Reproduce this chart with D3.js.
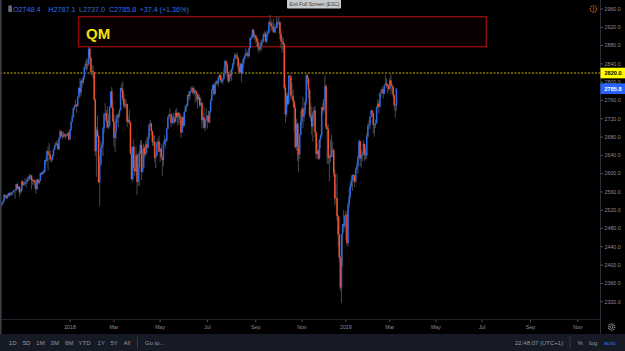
<!DOCTYPE html>
<html><head><meta charset="utf-8">
<script src="https://cdn.jsdelivr.net/npm/d3@7"></script>
<style>html,body{margin:0;padding:0;background:#000;overflow:hidden}svg{display:block}text{font-family:"Liberation Sans",Arial,sans-serif}</style>
</head><body><svg id="c" width="625" height="351" font-family="Liberation Sans, Arial, sans-serif"></svg>
<script>
// ---------------- DATA (ES1! daily, Oct 2 2017 -> Mar 11 2019) ----------------
const startDate = "2017-10-02";
const holidays = ["2017-11-23","2017-12-25","2018-01-01","2018-01-15","2018-02-19","2018-03-30","2018-05-28","2018-07-04","2018-09-03","2018-11-22","2018-12-05","2018-12-25","2019-01-01","2019-01-21","2019-02-18","2019-04-19","2019-05-27","2019-07-04","2019-09-02","2019-11-28","2019-12-25"];

const open = [
2527,2531,2536,2540,2553,2551,2547,2552,2557,2553,2555,2559,2561,2563,2564,2577,2567,2571,2559,2562,2583,2575,
2577,2581,2582,2589,2593,2592,2596,2586,2584,2586,2580,2566,2587,2580,2584,2601,2599,2604,2603,2629,2628,
2649,2644,2641,2631,2631,2639,2653,2662,2666,2664,2654,2677,2692,2683,2681,2686,2685,2682,2684,2689,
2676,2696,2713,2724,2743,2748,2751,2748,2768,2787,2777,2803,2799,2811,2833,2839,2838,2839,2873,2853,2822,
2824,2822,2762,2649,2695,2682,2581,2620,2656,2663,2699,2731,2732,2716,2701,2704,2747,2780,2744,
2714,2678,2691,2721,2728,2727,2739,2787,2783,2765,2749,2747,2752,2713,2717,2712,2644,2588,2659,2613,2605,
2641,2582,2614,2645,2663,2604,2613,2657,2642,2664,2656,2678,2706,2709,2693,2670,2670,2635,2639,2667,2670,
2648,2655,2636,2630,2663,2673,2672,2698,2723,2728,2730,2711,2722,2720,2713,2733,2724,2733,2728,2721,2690,2724,
2705,2735,2747,2749,2772,2770,2779,2782,2787,2776,2782,2780,2774,2763,2767,2750,2755,2717,2723,2700,2716,
2718,2727,2713,2737,2760,2784,2794,2774,2798,2801,2798,2810,2816,2805,2802,2807,2821,2846,2837,2819,2802,
2816,2814,2828,2841,2851,2859,2858,2854,2834,2822,2840,2819,2841,2851,2858,2863,2862,2857,2875,2897,2898,2914,2901,
2902,2897,2889,2878,2872,2877,2888,2889,2904,2905,2889,2905,2908,2931,2929,2922,2920,2910,2919,
2919,2930,2929,2931,2906,2890,2888,2883,2787,2730,2770,2753,2814,2812,2771,2770,2758,2743,2658,2708,2660,2642,2685,
2714,2742,2725,2740,2757,2815,2808,2783,2728,2724,2703,2732,2738,2691,2643,2650,2633,2674,2684,2745,2739,
2762,2792,2702,2697,2634,2639,2637,2652,2651,2600,2546,2547,2507,2467,2417,2351,2467,2489,2486,
2507,2510,2448,2532,2550,2574,2585,2597,2596,2583,2610,2616,2636,2671,2633,2639,2642,2665,2644,2640,2681,
2704,2707,2725,2738,2732,2706,2708,2710,2745,2753,2746,2776,2780,2785,2775,2793,2797,2794,2793,
2785,2804,2793,2790,2772,2750,2748.4];

const high = [
2533,2537,2541,2555,2555,2553,2556,2558,2560,2559,2560,2562,2566,2565,2578,2580,2573,2573,2568,2585,2585,2580,
2590,2584,2590,2594,2599,2598,2597,2588,2589,2587,2581,2590,2589,2586,2602,2603,2605,2608,2630,2635,2652,
2660,2667,2650,2636,2642,2655,2663,2669,2673,2671,2680,2697,2695,2690,2693,2688,2686,2688,2690,2694,
2698,2715,2730,2745,2750,2762,2752,2769,2790,2808,2807,2806,2812,2834,2845,2852,2850,2878,2876,2856,2838,
2836,2823,2765,2702,2727,2686,2638,2672,2667,2702,2731,2754,2739,2747,2731,2748,2780,2790,2762,
2730,2693,2728,2732,2730,2741,2788,2797,2802,2777,2763,2762,2753,2725,2740,2713,2658,2659,2675,2630,2660,
2645,2619,2649,2673,2673,2653,2666,2661,2672,2680,2686,2711,2718,2712,2694,2683,2684,2646,2670,2677,2683,
2655,2666,2639,2670,2684,2677,2701,2726,2732,2743,2731,2727,2733,2726,2740,2743,2734,2734,2732,2723,2726,2725,
2737,2750,2753,2773,2780,2781,2790,2791,2791,2789,2784,2781,2775,2775,2772,2764,2756,2733,2747,2722,2743,
2727,2737,2738,2764,2785,2796,2795,2800,2805,2804,2814,2818,2817,2812,2810,2832,2848,2849,2842,2822,2824,
2826,2831,2842,2852,2864,2863,2865,2855,2844,2843,2841,2850,2855,2861,2874,2868,2869,2876,2899,2904,2917,2916,2907,
2904,2901,2895,2885,2886,2893,2895,2907,2911,2910,2912,2914,2934,2947,2936,2930,2939,2927,2922,
2944,2936,2945,2933,2912,2900,2898,2886,2796,2775,2777,2815,2817,2816,2798,2783,2762,2751,2720,2712,2710,2688,2737,
2744,2768,2746,2760,2817,2818,2810,2786,2755,2747,2736,2747,2747,2693,2667,2654,2676,2686,2747,2754,2763,
2815,2795,2708,2708,2642,2675,2685,2670,2655,2608,2574,2600,2510,2505,2420,2468,2490,2520,2510,
2519,2515,2538,2567,2580,2596,2598,2599,2597,2613,2625,2641,2675,2672,2653,2647,2673,2666,2656,2688,2709,
2716,2725,2738,2740,2733,2709,2719,2748,2762,2760,2777,2785,2790,2786,2795,2815,2808,2797,2795,
2810,2818,2798,2792,2773,2752,2787.1];

const low = [
2524,2529,2533,2538,2546,2544,2545,2549,2550,2551,2553,2553,2558,2545,2562,2565,2564,2550,2556,2560,2572,2573,
2576,2570,2578,2585,2584,2587,2566,2576,2574,2568,2556,2565,2578,2577,2583,2596,2598,2598,2602,2619,2626,
2607,2638,2627,2624,2628,2637,2650,2658,2660,2651,2651,2676,2680,2675,2678,2680,2675,2680,2682,2672,
2673,2694,2711,2722,2738,2745,2733,2746,2765,2766,2770,2788,2795,2805,2828,2824,2828,2836,2850,2815,2814,
2808,2759,2638,2593,2680,2580,2529,2618,2640,2638,2689,2725,2710,2700,2697,2703,2746,2743,2713,
2659,2647,2676,2711,2701,2722,2738,2779,2758,2744,2741,2745,2702,2710,2709,2642,2586,2582,2607,2594,2603,
2553,2574,2573,2643,2586,2602,2610,2634,2639,2645,2655,2676,2703,2684,2661,2660,2625,2612,2637,2659,2647,
2626,2635,2594,2616,2663,2655,2669,2697,2718,2726,2702,2709,2708,2708,2712,2721,2705,2707,2711,2678,2689,2700,
2704,2734,2737,2746,2763,2760,2777,2777,2774,2771,2755,2758,2742,2760,2745,2748,2699,2711,2698,2693,2714,
2698,2711,2709,2733,2759,2782,2770,2773,2793,2794,2790,2806,2799,2798,2795,2806,2815,2834,2811,2798,2800,
2808,2803,2825,2836,2849,2850,2850,2824,2819,2820,2800,2817,2831,2848,2856,2856,2851,2855,2873,2892,2896,2896,2892,
2885,2877,2868,2864,2870,2868,2880,2887,2899,2887,2885,2900,2906,2925,2912,2915,2907,2908,2907,
2918,2917,2925,2893,2874,2865,2872,2783,2711,2724,2747,2750,2782,2762,2762,2748,2693,2655,2650,2628,2603,2632,2684,
2707,2700,2714,2730,2750,2796,2765,2722,2714,2685,2670,2717,2680,2632,2642,2630,2631,2656,2678,2728,2734,
2760,2697,2621,2621,2583,2625,2635,2636,2593,2530,2538,2497,2441,2408,2343,2317,2397,2472,2480,
2456,2444,2440,2525,2545,2568,2562,2581,2570,2580,2606,2600,2632,2617,2613,2627,2640,2628,2631,2632,2678,
2696,2698,2722,2725,2688,2681,2700,2709,2744,2732,2744,2767,2776,2764,2773,2792,2787,2775,2780,
2785,2774,2781,2767,2738,2722,2737.0];

const close = [
2531,2536,2540,2554,2551,2547,2552,2557,2553,2555,2559,2561,2563,2564,2577,2567,2571,2559,2562,2583,2575,2577,
2581,2582,2589,2593,2592,2596,2586,2584,2586,2580,2566,2587,2580,2584,2601,2599,2604,2603,2629,2628,2649,
2644,2641,2631,2631,2639,2653,2662,2666,2664,2654,2677,2692,2683,2681,2686,2685,2682,2684,2689,2675,
2696,2713,2724,2743,2748,2751,2748,2768,2787,2777,2803,2799,2811,2833,2839,2838,2839,2873,2853,2822,2824,
2822,2762,2649,2695,2682,2581,2620,2656,2663,2699,2731,2732,2716,2701,2704,2747,2780,2744,2714,
2678,2691,2721,2728,2727,2739,2787,2783,2765,2749,2747,2752,2713,2717,2712,2644,2588,2659,2613,2605,2641,
2582,2614,2645,2663,2604,2613,2657,2642,2664,2656,2678,2706,2709,2693,2670,2670,2635,2639,2667,2670,2648,
2655,2636,2630,2663,2673,2672,2698,2723,2728,2730,2711,2722,2720,2713,2733,2724,2733,2728,2721,2690,2724,2705,
2735,2747,2749,2772,2770,2779,2782,2787,2776,2782,2780,2774,2763,2767,2750,2755,2717,2723,2700,2716,2718,
2727,2713,2737,2760,2784,2794,2774,2798,2801,2798,2810,2816,2805,2802,2807,2821,2846,2837,2819,2802,2816,
2814,2828,2841,2851,2859,2858,2854,2834,2822,2840,2819,2841,2851,2858,2863,2862,2857,2875,2897,2898,2914,2901,2902,
2897,2889,2878,2872,2877,2888,2889,2904,2905,2889,2905,2908,2931,2929,2922,2920,2910,2919,2919,
2930,2929,2931,2906,2890,2888,2883,2787,2730,2770,2753,2814,2812,2771,2770,2758,2743,2658,2708,2660,2642,2685,2714,
2742,2725,2740,2757,2815,2808,2783,2728,2724,2703,2732,2738,2691,2643,2650,2633,2674,2684,2745,2739,2762,
2792,2702,2697,2634,2639,2637,2652,2651,2600,2546,2547,2507,2467,2417,2351,2467,2489,2486,2507,
2510,2448,2532,2550,2574,2585,2597,2596,2583,2610,2616,2636,2671,2633,2639,2642,2665,2644,2640,2681,2704,
2707,2725,2738,2732,2706,2708,2710,2745,2753,2746,2776,2780,2785,2775,2793,2797,2794,2793,2785,
2804,2793,2790,2772,2750,2748.4,2785.8];

const priceTicks = [2320,2360,2400,2440,2480,2520,2560,2600,2640,2680,2720,2760,2800,2840,2880,2920,2960];
const tickMonths = ["2018-01","2018-03","2018-05","2018-07","2018-09","2018-11","2019-01","2019-03","2019-05","2019-07","2019-09","2019-11"];
const tickLabels = ["2018","Mar","May","Jul","Sep","Nov","2019","Mar","May","Jul","Sep","Nov"];
const levelPrice = 2820.0;
const qmBox = {i0: 70.7, i1: 441.8, pTop: 2943.3, pBottom: 2877.6, label: "QM"};
const rangeButtons = ["1D","5D","1M","3M","6M","YTD","1Y","5Y","All"];
const rangeButtonX = [8.8,22.7,36.3,50.6,65,78.5,97.6,110.4,123.6];

// ---------------- CALENDAR ----------------
const hol = new Set(holidays);
const dates = [];
{
  let d = new Date(startDate + "T00:00:00Z");
  while (dates.length < 560) {
    const wd = d.getUTCDay();
    const s = d.toISOString().slice(0,10);
    if (wd !== 0 && wd !== 6 && !hol.has(s)) dates.push(s);
    d = new Date(d.getTime() + 86400000);
  }
}
const n = close.length;

// ---------------- SCALES ----------------
const W = 625, H = 351, plotR = 600, axisY = 319.5, barY = 334;
const x = d3.scaleLinear().domain([0, 354]).range([0.8, 389.8]);
const y = d3.scaleLinear().domain([2320, 2960]).range([301.7, 9.0]);

const svg = d3.select("#c");
svg.append("rect").attr("width", W).attr("height", H).attr("fill", "#000");

const plot = svg.append("g");
plot.append("clipPath").attr("id","clip").append("rect").attr("x",0).attr("y",0).attr("width",plotR).attr("height",axisY);
const pg = plot.append("g").attr("clip-path","url(#clip)");

// level line
pg.append("line").attr("x1",0).attr("x2",plotR).attr("y1",y(levelPrice)).attr("y2",y(levelPrice))
  .attr("stroke","#c9b800").attr("stroke-width",1).attr("stroke-dasharray","2,1.5");

// QM rectangle
const bx0 = x(qmBox.i0), bx1 = x(qmBox.i1), by0 = y(qmBox.pTop), by1 = y(qmBox.pBottom);
pg.append("rect").attr("x",bx0).attr("y",by0).attr("width",bx1-bx0).attr("height",by1-by0)
  .attr("fill","rgba(150,0,0,0.05)").attr("stroke","#8e0b0b").attr("stroke-width",1.4);

// candles
const idx = d3.range(n);
pg.append("g").selectAll("line").data(idx).join("line")
  .attr("x1", i => x(i)).attr("x2", i => x(i))
  .attr("y1", i => y(Math.max(high[i], open[i], close[i])))
  .attr("y2", i => y(Math.min(low[i], open[i], close[i])))
  .attr("stroke","#45484f").attr("stroke-width",1);
pg.append("g").selectAll("rect").data(idx).join("rect")
  .attr("x", i => x(i) - 0.75).attr("width", 1.5)
  .attr("y", i => y(Math.max(open[i], close[i])))
  .attr("height", i => Math.max(0.8, Math.abs(y(open[i]) - y(close[i]))))
  .attr("fill", i => close[i] >= open[i] ? "#2a69e6" : "#f4512a");

// QM label
pg.append("text").attr("x", bx0 + 7.5).attr("y", by0 + 22.5).text(qmBox.label)
  .attr("fill","#f2e20c").attr("font-weight","bold").attr("font-size","15px");

// ---------------- PRICE AXIS ----------------
svg.append("line").attr("x1",plotR+0.5).attr("x2",plotR+0.5).attr("y1",0).attr("y2",barY).attr("stroke","#2a2e39");
const pa = svg.append("g");
pa.selectAll("line").data(priceTicks).join("line")
  .attr("x1",plotR+0.5).attr("x2",plotR+3).attr("y1",d=>y(d)).attr("y2",d=>y(d)).attr("stroke","#555");
pa.selectAll("text").data(priceTicks).join("text")
  .attr("x",plotR+4.5).attr("y",d=>y(d)).attr("dy","0.35em").text(d=>d3.format(".1f")(d))
  .attr("fill","#8a8c93").attr("font-size","5.3px");

function priceLabel(p, bg, fg){
  const g = svg.append("g");
  g.append("rect").attr("x",plotR+0.5).attr("y",y(p)-5.3).attr("width",W-plotR-0.5).attr("height",10.6).attr("fill",bg);
  g.append("text").attr("x",plotR+4.5).attr("y",y(p)).attr("dy","0.35em").text(d3.format(".1f")(p))
    .attr("fill",fg).attr("font-size","5.6px").attr("font-weight","bold");
}
priceLabel(levelPrice, "#ffff00", "#000");
priceLabel(close[n-1], "#2962ff", "#fff");

// ---------------- TIME AXIS ----------------
svg.append("line").attr("x1",0).attr("x2",plotR).attr("y1",axisY).attr("y2",axisY).attr("stroke","#1f222b");
const tIdx = tickMonths.map(m => dates.findIndex(d => d.startsWith(m)));
const ta = svg.append("g");
ta.selectAll("line").data(tIdx).join("line")
  .attr("x1",i=>x(i)).attr("x2",i=>x(i)).attr("y1",axisY).attr("y2",axisY+2.5).attr("stroke","#555");
ta.selectAll("text").data(tIdx).join("text")
  .attr("x",i=>x(i)).attr("y",327.5).attr("dy","0.35em").attr("text-anchor","middle")
  .text((i,k)=>tickLabels[k]).attr("fill","#8a8c93").attr("font-size","5.3px");

// gear icon
svg.append("circle").attr("cx",611.5).attr("cy",327).attr("r",3.1).attr("fill","none").attr("stroke","#9598a1").attr("stroke-width",1.3).attr("stroke-dasharray","1.1,0.8");
svg.append("circle").attr("cx",611.5).attr("cy",327).attr("r",1.4).attr("fill","none").attr("stroke","#9598a1").attr("stroke-width",0.8);

// ---------------- BOTTOM TOOLBAR ----------------
svg.append("rect").attr("x",0).attr("y",barY).attr("width",W).attr("height",H-barY).attr("fill","#161a25");
const tb = svg.append("g").attr("font-size","6px").attr("fill","#9598a1");
tb.selectAll("text").data(rangeButtons).join("text")
  .attr("x",(d,k)=>rangeButtonX[k]).attr("y",343).attr("dy","0.35em").text(d=>d);
tb.append("text").attr("x",145).attr("y",343).attr("dy","0.35em").text("Go to...");
tb.append("text").attr("x",515).attr("y",343).attr("dy","0.35em").text("22:48:07 (UTC+1)");
tb.append("text").attr("x",577.5).attr("y",343).attr("dy","0.35em").text("%");
tb.append("text").attr("x",589).attr("y",343).attr("dy","0.35em").text("log");
tb.append("text").attr("x",604).attr("y",343).attr("dy","0.35em").text("auto").attr("fill","#2e6cf0");
[137.5, 570].forEach(sx => svg.append("line").attr("x1",sx).attr("x2",sx).attr("y1",337).attr("y2",349).attr("stroke","#363a45"));

// left frame
svg.append("rect").attr("x",0).attr("y",0).attr("width",1.6).attr("height",barY).attr("fill","#3a3d46");

// ---------------- HEADER ----------------
const last = n - 1;
const chg = close[last] - close[last-1];
const pct = chg / close[last-1] * 100;
svg.append("rect").attr("x",8.3).attr("y",5.5).attr("width",3.6).attr("height",6.5).attr("fill","#6b6e78");
const hdr = [
  {x:13, t:"O" + d3.format(".1f")(open[last])},
  {x:48.3, t:"H" + d3.format(".1f")(high[last])},
  {x:79, t:"L" + d3.format(".1f")(low[last])},
  {x:109, t:"C" + d3.format(".1f")(close[last])},
  {x:139.5, t:(chg>=0?"+":"") + d3.format(".1f")(chg)},
  {x:159.5, t:"(" + (pct>=0?"+":"") + d3.format(".2f")(pct) + "%)"}
];
svg.append("g").selectAll("text").data(hdr).join("text")
  .attr("x",d=>d.x).attr("y",9).attr("dy","0.35em").text(d=>d.t)
  .attr("fill","#2f6fe8").attr("font-size","7.2px");

// exit full screen tooltip
svg.append("rect").attr("x",287).attr("y",-1).attr("width",54).attr("height",9.5).attr("rx",1).attr("fill","#c8c9cc");
svg.append("text").attr("x",289.5).attr("y",4.2).attr("dy","0.35em").text("Exit Full Screen (ESC)").attr("fill","#3a3a3a").attr("font-size","5px");

// orange alert icon
svg.append("circle").attr("cx",593.5).attr("cy",9).attr("r",3.3).attr("fill","none").attr("stroke","#e8891e").attr("stroke-width",1).attr("stroke-dasharray","1.6,0.8");
svg.append("text").attr("x",593.5).attr("y",9).attr("dy","0.35em").attr("text-anchor","middle").text("!").attr("fill","#e8891e").attr("font-size","5px").attr("font-weight","bold");
</script>
</body></html>
